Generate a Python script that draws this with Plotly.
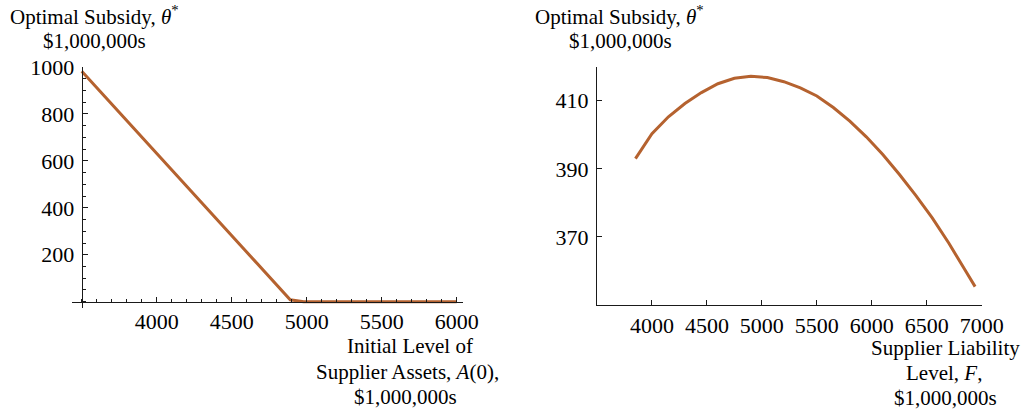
import plotly.graph_objects as go

# Left panel: optimal subsidy vs. initial supplier assets
assets = [3500, 3600, 3700, 3800, 3900, 4000, 4100, 4200, 4300, 4400, 4500,
          4600, 4700, 4800, 4890, 4980, 5200, 5500, 5800, 6000]
subsidy_assets = [982, 912, 842, 772, 702, 630, 560, 490, 420, 350, 280,
                  210, 140, 70, 8, 0, 0, 0, 0, 0]

# Right panel: optimal subsidy vs. supplier liability level
liability = [3850, 4000, 4150, 4300, 4450, 4600, 4750, 4900, 5050, 5200, 5350,
             5500, 5650, 5800, 5950, 6100, 6250, 6400, 6550, 6700, 6850, 6940]
subsidy_liability = [393.0, 400.3, 405.3, 409.2, 412.4, 415.0, 416.6, 417.2,
                     416.8, 415.6, 413.8, 411.4, 408.0, 404.0, 399.4, 394.2,
                     388.4, 382.2, 375.6, 368.2, 360.2, 355.4]

left_xticks = [4000, 4500, 5000, 5500, 6000]
left_yticks = [200, 400, 600, 800, 1000]
right_xticks = [4000, 4500, 5000, 5500, 6000, 6500, 7000]
right_yticks = [370, 390, 410]

W, H = 1024, 411
LINE = "#b5622f"
FONT = "Liberation Serif"
AX = "#1a1a1a"


def px(x):
    return x / W


def py(y):
    return 1 - y / H


fig = go.Figure()
fig.add_trace(go.Scatter(x=assets, y=subsidy_assets, mode="lines",
                         line=dict(color=LINE, width=3), xaxis="x", yaxis="y",
                         showlegend=False, hoverinfo="skip"))
fig.add_trace(go.Scatter(x=liability, y=subsidy_liability, mode="lines",
                         line=dict(color=LINE, width=3), xaxis="x2", yaxis="y2",
                         showlegend=False, hoverinfo="skip"))

tickfont = dict(family=FONT, size=22, color="black")
common = dict(showgrid=False, zeroline=False, showline=True, linecolor=AX,
              linewidth=1.2, ticks="inside", tickcolor=AX, tickfont=tickfont,
              fixedrange=True, automargin=False, ticklen=5)

fig.update_layout(
    width=W, height=H,
    margin=dict(l=0, r=0, t=0, b=0, pad=0, autoexpand=False),
    paper_bgcolor="white", plot_bgcolor="white",
    xaxis=dict(domain=[px(71.7), px(463)], range=[3433, 6042],
               anchor="free", position=py(301.7),
               tickmode="array", tickvals=left_xticks, ticklabelstandoff=0,
               minor=dict(dtick=100, tick0=3500, ticks="inside", ticklen=3,
                          tickcolor=AX),
               **common),
    yaxis=dict(domain=[py(308), py(67)], range=[-27, 1000],
               anchor="free", position=px(81.7),
               tickmode="array", tickvals=left_yticks, ticklabelstandoff=3,
               minor=dict(dtick=50, tick0=0, ticks="inside", ticklen=3,
                          tickcolor=AX),
               **common),
    xaxis2=dict(domain=[px(597), px(981.7)], range=[3500, 7000],
                anchor="y2", tickmode="array", tickvals=right_xticks,
                ticklabelstandoff=0, **common),
    yaxis2=dict(domain=[py(305), py(66.7)], range=[350, 420],
                anchor="x2", tickmode="array", tickvals=right_yticks,
                ticklabelstandoff=3, **common),
)

afont = dict(family=FONT, size=21, color="black")


def label(text, xc, yc):
    fig.add_annotation(text=text, x=px(xc), y=py(yc), xref="paper",
                       yref="paper", xanchor="center", yanchor="middle",
                       showarrow=False, font=afont, align="center")


theta = "Optimal Subsidy, <i>θ</i><sup>*</sup>"
label(theta, 94, 16)
label("$1,000,000s", 94, 41)
label(theta, 619, 16)
label("$1,000,000s", 620, 41)

label("Initial Level of", 410, 346)
label("Supplier Assets, <i>A</i>(0),", 407, 372)
label("$1,000,000s", 405, 397)

label("Supplier Liability", 945, 348)
label("Level, <i>F</i>,", 944, 373)
label("$1,000,000s", 945, 398)

fig.write_html("out.html",
               post_script="document.body.style.margin='0';"
                           "document.body.style.overflow='hidden';")
